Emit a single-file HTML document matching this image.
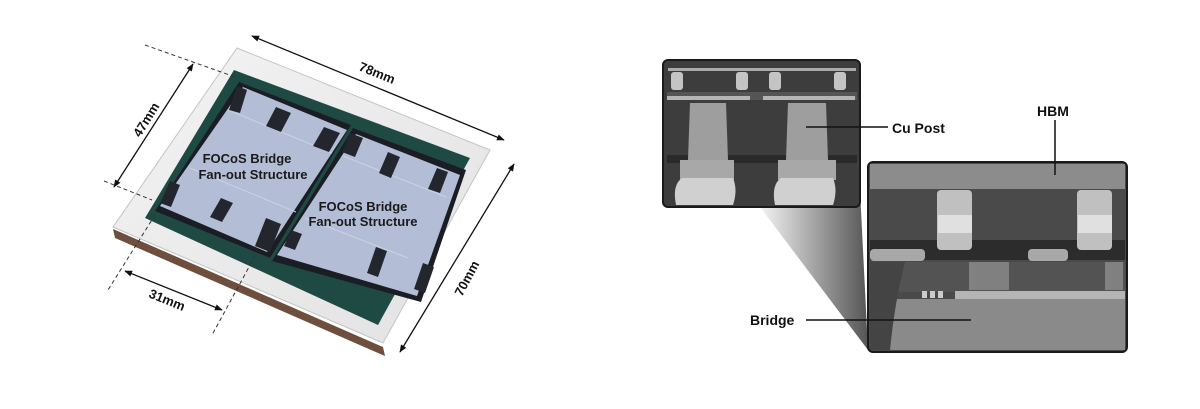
<!DOCTYPE html>
<html><head><meta charset="utf-8"><style>
html,body{margin:0;padding:0;background:#fff;width:1200px;height:409px;overflow:hidden}
svg{display:block}
text{font-family:"Liberation Sans",sans-serif}
</style></head><body>
<svg width="1200" height="409" viewBox="0 0 1200 409" xmlns="http://www.w3.org/2000/svg">
<defs>
<linearGradient id="cone" x1="0" y1="0" x2="1" y2="0">
<stop offset="0" stop-color="#f4f4f4"/><stop offset="1" stop-color="#555"/></linearGradient>
<linearGradient id="frame" x1="0" y1="0" x2="1" y2="1">
<stop offset="0" stop-color="#f3f3f3"/><stop offset="1" stop-color="#e2e2e2"/></linearGradient>
<marker id="ar" viewBox="0 0 10 10" refX="9" refY="5" markerWidth="6" markerHeight="6" orient="auto-start-reverse"><path d="M0,1 L10,5 L0,9z" fill="#111"/></marker>
</defs>
<!-- package -->
<polygon points="113,229 383,347 385,356 115,238" fill="#6e4e3c"/>
<polygon points="237,48 490,150 383,343 113,227" fill="url(#frame)" stroke="#c4c4c4" stroke-width="1"/>
<polygon points="234,70 470,158 378,325 145,218" fill="#1f4a44"/>
<polygon points="239,82 351,125 270,258 155,211" fill="#1a1d24"/>
<polygon points="353,128 466,170 421,302 272,261" fill="#1a1d24"/>
<polygon points="243,87 347,130 267,252 160,206" fill="#b3bed6"/>
<polygon points="356,134 460,175 417,296 277,255" fill="#b3bed6"/>
<g stroke="#c9d2e4" stroke-width="1">
<line x1="228" y1="110" x2="332" y2="153"/><line x1="190" y1="168" x2="296" y2="212"/>
<line x1="343" y1="156" x2="446" y2="197"/><line x1="305" y1="218" x2="408" y2="258"/>
</g>
<g fill="#23262d">
<polygon points="276,107 291,113 281,132 266,126"/><polygon points="324,127 340,133 329,152 313,146"/>
<polygon points="237,86 247,90 240,113 229,110"/>
<polygon points="221,198 233,203 222,222 210,217"/><polygon points="266,218 281,224 270,252 255,246"/>
<polygon points="170,181 180,185 171,207 160,203"/>
<polygon points="350,133 363,138 355,157 342,152"/><polygon points="388,152 400,157 391,178 379,173"/>
<polygon points="437,168 448,172 440,193 428,189"/>
<polygon points="376,247 387,251 378,277 367,273"/><polygon points="423,263 434,267 425,293 414,289"/>
<polygon points="291,230 302,234 295,250 284,246"/>
</g>
<g font-size="13" font-weight="bold" fill="#1a1a1a" text-anchor="middle">
<text x="247" y="163">FOCoS Bridge</text><text x="253" y="179">Fan-out Structure</text>
<text x="363" y="211">FOCoS Bridge</text><text x="363" y="226">Fan-out Structure</text>
</g>
<!-- dimensions -->
<g stroke="#111" stroke-width="1.3" fill="none">
<line x1="252" y1="36" x2="504" y2="140" marker-start="url(#ar)" marker-end="url(#ar)"/>
<line x1="193" y1="64" x2="114" y2="187" marker-start="url(#ar)" marker-end="url(#ar)"/>
<line x1="514" y1="164" x2="400" y2="352" marker-start="url(#ar)" marker-end="url(#ar)"/>
<line x1="125" y1="271" x2="222" y2="310" marker-start="url(#ar)" marker-end="url(#ar)"/>
</g>
<g stroke="#333" stroke-width="1" stroke-dasharray="4,3" fill="none">
<line x1="145" y1="45" x2="238" y2="78"/><line x1="104" y1="181" x2="152" y2="200"/>
<line x1="155" y1="215" x2="108" y2="290"/><line x1="255" y1="256" x2="212" y2="335"/>
</g>
<g font-size="13" font-weight="bold" fill="#111">
<text transform="translate(358,70) rotate(22)">78mm</text>
<text transform="translate(140,138) rotate(-58)">47mm</text>
<text transform="translate(462,297) rotate(-62)">70mm</text>
<text transform="translate(148,297) rotate(22)">31mm</text>
</g>
<!-- cone -->
<polygon points="760,207 860,190 868,350" fill="url(#cone)"/>
<!-- top box -->
<g>
<rect x="663" y="60" width="197" height="147" rx="5" fill="#3d3d3d" stroke="#1a1a1a" stroke-width="2"/>
<rect x="668" y="68" width="188" height="3" fill="#aaa"/>
<rect x="667" y="92" width="190" height="8" fill="#555"/>
<rect x="667" y="96" width="83" height="4" fill="#b5b5b5"/><rect x="763" y="96" width="92" height="4" fill="#b5b5b5"/>
<g fill="#c4c4c4"><rect x="671" y="72" width="12" height="18" rx="3"/><rect x="736" y="72" width="12" height="18" rx="3"/><rect x="769" y="72" width="12" height="18" rx="3"/><rect x="834" y="72" width="12" height="18" rx="3"/></g>
<rect x="667" y="155" width="190" height="8" fill="#2a2a2a"/>
<polygon points="690,103 726,103 728,160 688,160" fill="#9e9e9e"/>
<polygon points="788,103 826,103 828,160 786,160" fill="#9e9e9e"/>
<path d="M680,160 H734 V180 H680z" fill="#a8a8a8"/><path d="M778,160 H836 V180 H778z" fill="#a8a8a8"/>
<path d="M676,205 Q672,185 682,178 H733 Q738,190 733,205z" fill="#d0d0d0"/>
<path d="M775,205 Q771,185 781,178 H833 Q838,190 833,205z" fill="#d0d0d0"/>
</g>
<!-- bottom box -->
<g>
<rect x="868" y="162" width="259" height="190" rx="5" fill="#4a4a4a" stroke="#1a1a1a" stroke-width="2"/>
<rect x="870" y="164" width="255" height="25" fill="#8c8c8c"/>
<rect x="870" y="240" width="255" height="20" fill="#2c2c2c"/>
<rect x="870" y="249" width="55" height="12" rx="4" fill="#a8a8a8"/>
<rect x="1028" y="249" width="40" height="12" rx="4" fill="#a8a8a8"/>
<g fill="#c0c0c0"><rect x="937" y="190" width="35" height="60" rx="4"/><rect x="1077" y="190" width="35" height="60" rx="4"/></g>
<g fill="#e0e0e0"><rect x="938" y="215" width="34" height="18"/><rect x="1078" y="215" width="34" height="18"/></g>
<g fill="#b8b8b8"><rect x="969" y="262" width="40" height="28"/><rect x="1105" y="262" width="18" height="28"/></g>
<rect x="870" y="262" width="255" height="30" fill="#5a5a5a" opacity="0.6"/>
<rect x="955" y="291" width="170" height="8" fill="#b5b5b5"/>
<rect x="880" y="299" width="245" height="51" fill="#8a8a8a"/>
<path d="M870,262 H905 Q895,300 890,350 H870z" fill="#444"/>
<g fill="#ccc"><rect x="922" y="291" width="5" height="7"/><rect x="930" y="291" width="5" height="7"/><rect x="938" y="291" width="5" height="7"/></g>
</g>
<!-- labels -->
<g stroke="#111" stroke-width="1.5">
<line x1="806" y1="127" x2="888" y2="127"/><line x1="1055" y1="120" x2="1055" y2="175"/><line x1="806" y1="320" x2="971" y2="320"/>
</g>
<g font-size="14" font-weight="bold" fill="#111">
<text x="892" y="133">Cu Post</text><text x="1037" y="116">HBM</text><text x="750" y="325">Bridge</text>
</g>
</svg>
</body></html>
